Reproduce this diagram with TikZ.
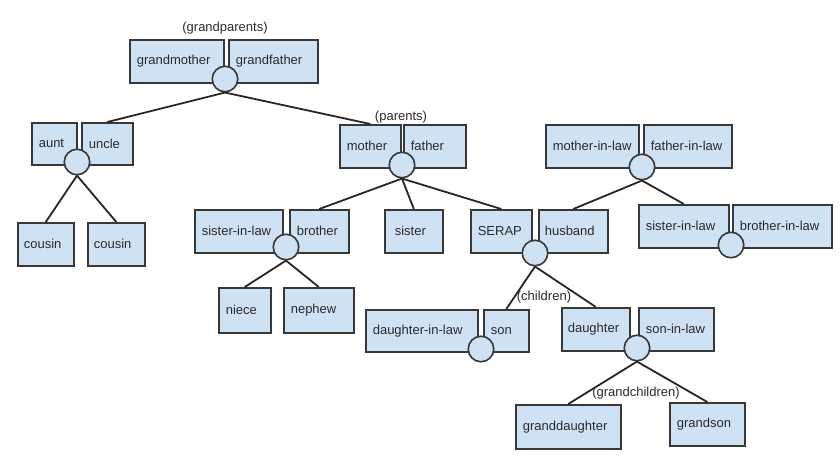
\documentclass[tikz,border=0pt]{standalone}
\usepackage{fontspec}
\setmainfont{Liberation Sans}
\definecolor{boxfill}{HTML}{CFE2F3}
\definecolor{edge}{HTML}{383838}
\definecolor{ink}{HTML}{2A2A2A}
\tikzset{
  famb/.style={draw=edge, line width=1.6pt, fill=boxfill, rectangle,
    inner ysep=0pt, align=left, text=ink,
    font=\fontsize{13}{15}\selectfont, anchor=north west},
  ring/.style={circle, draw=edge, line width=1.6pt, fill=boxfill,
    minimum size=25.5pt, inner sep=0pt},
  tie/.style={draw=black!85, line width=1.8pt},
  tag/.style={text=ink, font=\fontsize{13}{15}\selectfont, inner sep=0pt}
}
% #1 padding, #2 name, #3 x1, #4 y1, #5 x2, #6 y2, #7 text
\newcommand\famnode[7][7]{%
  \node[famb, inner xsep=#1pt,
    minimum width=\the\dimexpr#5pt-#3pt\relax,
    minimum height=\the\dimexpr#6pt-#4pt\relax,
    text width=\the\dimexpr#5pt-#3pt-#1pt-#1pt\relax] (#2) at (#3,#4) {#7};}
\begin{document}
\begin{tikzpicture}[x=1pt,y=-1pt]
\useasboundingbox[fill=white] (0,0) rectangle (840,455);

% boxes
\famnode{gm}{129}{39}{223}{82}{grandmother}
\famnode{gf}{228}{39}{317}{82}{grandfather}
\famnode{aunt}{31}{122}{76}{164}{aunt}
\famnode{uncle}{81}{122}{132}{164}{uncle}
\famnode[6]{cousinA}{17}{222}{73}{265}{cousin}
\famnode[6]{cousinB}{87}{222}{144}{265}{cousin}
\famnode{mother}{339}{124}{400}{167}{mother}
\famnode{father}{403}{124}{465}{167}{father}
\famnode{silA}{194}{209}{282}{252}{sister-in-law}
\famnode{brother}{289}{209}{348}{252}{brother}
\famnode[10]{sister}{384}{209}{442}{252}{sister}
\famnode{niece}{218}{287}{270}{332}{niece}
\famnode{nephew}{283}{287}{353}{332}{nephew}
\famnode{serap}{470}{209}{531}{252}{SERAP}
\famnode[6]{husband}{538}{209}{607}{252}{husband}
\famnode{mil}{545}{124}{638}{167}{mother-in-law}
\famnode{fil}{643}{124}{731}{167}{father-in-law}
\famnode{silB}{638}{204}{728}{247}{sister-in-law}
\famnode{bil}{732}{204}{831}{247}{brother-in-law}
\famnode{dil}{365}{309}{477}{351}{daughter-in-law}
\famnode{son}{483}{309}{528}{351}{son}
\famnode[6]{daughter}{561}{307}{629}{350}{daughter}
\famnode{sonil}{638}{307}{713}{350}{son-in-law}
\famnode{gdaughter}{515}{404}{620}{448}{granddaughter}
\famnode{gson}{669}{402}{744}{445}{grandson}

% marriage circles
\node[ring] (cgp) at (225,79) {};
\node[ring] (cau) at (77,162) {};
\node[ring] (cpa) at (402,165) {};
\node[ring] (cbr) at (286,247) {};
\node[ring] (cse) at (535,253) {};
\node[ring] (cil) at (642,167) {};
\node[ring] (cbl) at (731,245) {};
\node[ring] (cso) at (481,349) {};
\node[ring] (cda) at (637,348) {};

% group labels
\node[tag] (lgp) at (225,28) {(grandparents)};
\node[tag] (lpa) at (401,117) {(parents)};
\node[tag] (lch) at (544,297) {(children)};
\node[tag] (lgc) at (636,393) {(grandchildren)};

% connectors
\draw[tie] (cgp.south) -- (uncle.north);
\draw[tie] (cgp.south) -- (mother.north);
\draw[tie] (cau.south) -- (cousinA.north);
\draw[tie] (cau.south) -- (cousinB.north);
\draw[tie] (cpa.south) -- (brother.north);
\draw[tie] (cpa.south) -- (sister.north);
\draw[tie] (cpa.south) -- (serap.north);
\draw[tie] (cbr.south) -- (niece.north);
\draw[tie] (cbr.south) -- (nephew.north);
\draw[tie] (cil.south) -- (husband.north);
\draw[tie] (cil.south) -- (silB.north);
\draw[tie] (cse.south) -- (son.north);
\draw[tie] (cse.south) -- (daughter.north);
\draw[tie] (cda.south) -- (gdaughter.north);
\draw[tie] (cda.south) -- (gson.north);
\end{tikzpicture}
\end{document}
